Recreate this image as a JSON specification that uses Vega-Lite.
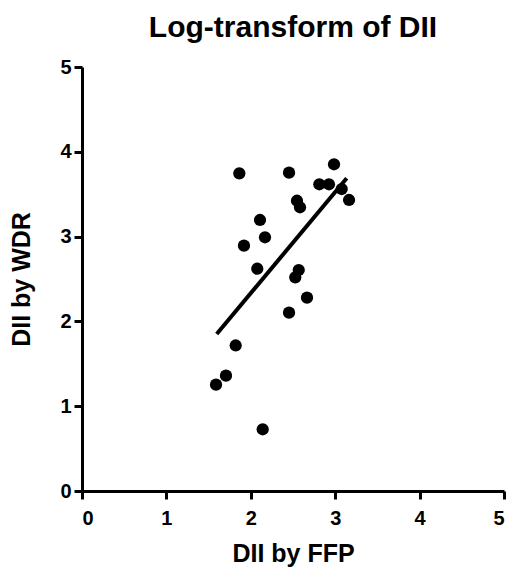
{
  "$schema": "https://vega.github.io/schema/vega-lite/v6.json",
  "autosize": {"type": "none"},
  "width": 422,
  "height": 424,
  "padding": {"left": 82, "top": 67, "right": 8, "bottom": 76},
  "background": "white",
  "config": {
    "view": {"stroke": null},
    "font": "Liberation Sans",
    "axis": {
      "grid": false,
      "domainColor": "black",
      "domainWidth": 3,
      "tickColor": "black",
      "tickWidth": 3,
      "tickSize": 8,
      "labelFont": "Liberation Sans",
      "labelFontWeight": "bold",
      "labelFontSize": 20,
      "labelColor": "black",
      "titleFont": "Liberation Sans",
      "titleFontWeight": "bold",
      "titleFontSize": 25,
      "titleColor": "black"
    }
  },
  "title": {
    "text": "Log-transform of DII",
    "font": "Liberation Sans",
    "fontSize": 30,
    "fontWeight": "bold",
    "color": "black",
    "anchor": "middle",
    "offset": 14
  },
  "datasets": {
    "points": [
      {"ffp": 1.864, "wdr": 3.746},
      {"ffp": 2.453, "wdr": 3.754},
      {"ffp": 2.986, "wdr": 3.853},
      {"ffp": 2.812, "wdr": 3.617},
      {"ffp": 2.926, "wdr": 3.617},
      {"ffp": 3.077, "wdr": 3.561},
      {"ffp": 3.164, "wdr": 3.432},
      {"ffp": 2.547, "wdr": 3.423},
      {"ffp": 2.583, "wdr": 3.346},
      {"ffp": 2.109, "wdr": 3.196},
      {"ffp": 2.168, "wdr": 2.992},
      {"ffp": 1.919, "wdr": 2.893},
      {"ffp": 2.077, "wdr": 2.621},
      {"ffp": 2.568, "wdr": 2.606},
      {"ffp": 2.527, "wdr": 2.52},
      {"ffp": 2.666, "wdr": 2.28},
      {"ffp": 2.453, "wdr": 2.103},
      {"ffp": 1.821, "wdr": 1.716},
      {"ffp": 1.706, "wdr": 1.36},
      {"ffp": 1.588, "wdr": 1.254},
      {"ffp": 2.141, "wdr": 0.728}
    ],
    "fit": [
      {"ffp": 1.596, "wdr": 1.851},
      {"ffp": 3.136, "wdr": 3.688}
    ]
  },
  "layer": [
    {
      "data": {"name": "fit"},
      "mark": {"type": "line", "color": "black", "strokeWidth": 4},
      "encoding": {
        "x": {"field": "ffp", "type": "quantitative", "scale": {"domain": [0, 5], "nice": false, "zero": true}, "axis": {"title": "DII by FFP", "values": [0, 1, 2, 3, 4, 5], "format": "d", "labelPadding": 9, "titlePadding": 13}},
        "y": {"field": "wdr", "type": "quantitative", "scale": {"domain": [0, 5], "nice": false}, "axis": {"title": "DII by WDR", "values": [0, 1, 2, 3, 4, 5], "format": "d", "labelPadding": 3, "titlePadding": 25}}
      }
    },
    {
      "data": {"name": "points"},
      "mark": {"type": "circle", "color": "black", "opacity": 1, "size": 150},
      "encoding": {
        "x": {"field": "ffp", "type": "quantitative"},
        "y": {"field": "wdr", "type": "quantitative"}
      }
    }
  ]
}
